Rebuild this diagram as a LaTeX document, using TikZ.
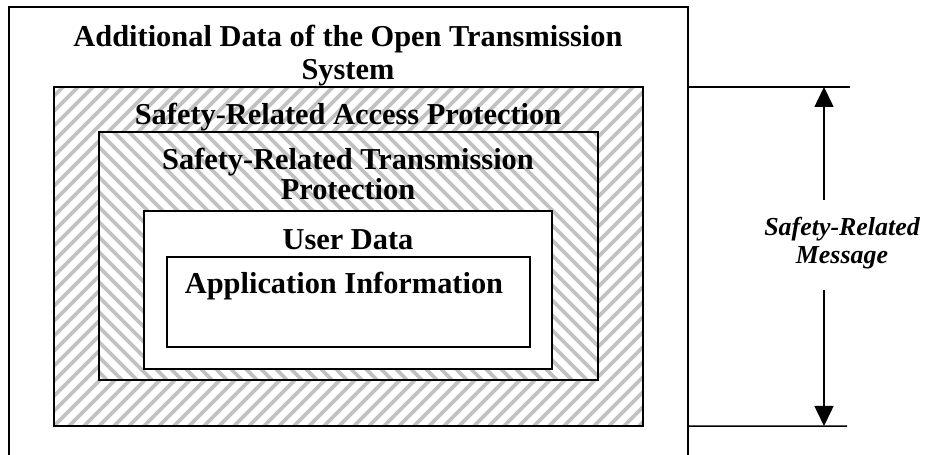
\documentclass[tikz,border=0pt]{standalone}
\usepackage{fontspec}
\setmainfont{Liberation Serif}
\usetikzlibrary{positioning,arrows.meta}

\tikzset{
  frame/.style={draw,line width=1.5bp,inner sep=0pt,outer sep=0pt,anchor=north west},
  stripe/.style={draw=black!24,line width=3.6bp},
  % "/" stripes
  hatchup/.style={frame,fill=white,path picture={
    \foreach \k in {-600,-585,...,700}
      \draw[stripe] ([xshift=\k bp]path picture bounding box.south west) -- ++(450,-450);}},
  % "\" stripes
  hatchdown/.style={frame,fill=white,path picture={
    \foreach \k in {-600,-585,...,700}
      \draw[stripe] ([xshift=\k bp]path picture bounding box.north west) -- ++(450,450);}},
  lbl/.style={font=\fontsize{30.5}{34}\selectfont\bfseries,align=center,inner sep=0pt,anchor=base},
  msg/.style={font=\fontsize{26}{29}\selectfont\bfseries\itshape,align=center,inner sep=0pt,anchor=base},
}

\begin{document}
\begin{tikzpicture}[x=1bp,y=-1bp,>={Triangle[width=19bp,length=20bp]}]
\useasboundingbox (0,0) rectangle (930,455);
% nested boxes
\node[frame,minimum width=679bp,minimum height=452bp] (outer) at (9,7) {};
\node[hatchup,minimum width=589bp,minimum height=339bp] (access) at (54,87) {};
\node[hatchdown,minimum width=499bp,minimum height=248bp] (trans) at (99,132) {};
\node[frame,fill=white,minimum width=408bp,minimum height=158bp] (user) at (144,211) {};
\node[frame,minimum width=363bp,minimum height=90bp] (app) at (167,257) {};
% box titles (base = last line)
\node[lbl] (outerT) at (348,80) {Additional Data of the Open Transmission\\System};
\node[lbl] (accessT) at (348,125) {Safety-Related Access Protection};
\node[lbl,font=\fontsize{30.5}{31}\selectfont\bfseries] (transT) at (348,200) {Safety-Related Transmission\\Protection};
\node[lbl] (userT) at (348,250) {User Data};
\node[lbl] (appT) at (344,294) {Application Information};
% message span
\coordinate (ttop) at (850,87);
\coordinate (tbot) at (847,426);
\coordinate (mtop) at (824,87);
\coordinate (mbot) at (824,426);
\coordinate (gtop) at (824,200);
\coordinate (gbot) at (824,290);
\draw[line width=1.5bp] (outer.east |- access.north) -- (ttop);
\draw[line width=1.5bp] (outer.east |- access.south) -- (tbot);
\draw[->,line width=1.5bp] (gtop) -- (mtop);
\draw[->,line width=1.5bp] (gbot) -- (mbot);
\node[msg] (msgT) at (842,264) {Safety-Related\\Message};
\end{tikzpicture}
\end{document}
